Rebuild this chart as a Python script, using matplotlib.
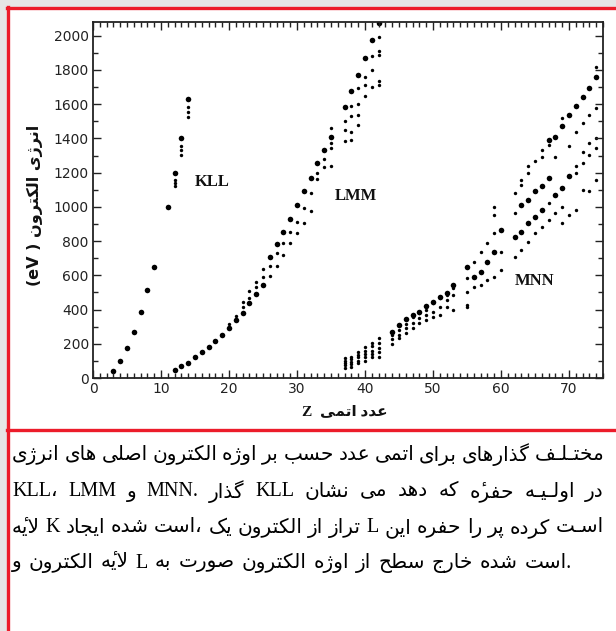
import matplotlib
matplotlib.use("Agg")
import matplotlib.pyplot as plt
from matplotlib.lines import Line2D
from matplotlib.patches import Rectangle
from matplotlib.ticker import MultipleLocator

# ---- data (Z, Auger energy in eV) ----
kll_z = [3, 4, 5, 6, 7, 8, 9, 11, 12, 13, 14]
kll_e = [40, 100, 175, 270, 385, 514, 650, 1000, 1197, 1405, 1632]
kll_small_z = [12, 12, 12, 13, 13, 13, 14, 14, 14]
kll_small_e = [1158, 1138, 1119, 1358, 1333, 1304, 1583, 1556, 1526]

lmm_z = [12, 13, 14, 15, 16, 17, 18, 19, 20, 21, 22, 23, 24, 25, 26, 27, 28,
         29, 30, 31, 32, 33, 34, 35, 37, 38, 39, 40, 41, 42]
lmm_e = [47, 72, 86, 125, 150, 183, 216, 251, 290, 339, 382, 437, 489, 544,
         709, 781, 855, 928, 1012, 1090, 1170, 1255, 1333, 1411, 1583, 1674,
         1772, 1870, 1972, 2074]
lmm_small_z = [20, 21, 22, 23, 24, 25, 26, 27, 28, 29, 30, 31, 32, 33, 34, 35,
               37, 38, 39, 40, 41, 42]
lmm_small_e = [[318], [362], [417, 446], [470, 510], [534, 563], [589, 637],
               [598, 657], [657, 729], [719, 787], [787, 851], [846, 914],
               [992, 908], [977, 1080], [1160, 1200], [1230, 1280],
               [1460, 1374, 1345, 1240], [1499, 1450, 1382],
               [1587, 1532, 1440, 1392], [1694, 1602, 1538, 1480],
               [1758, 1713, 1645], [1880, 1801, 1700],
               [1990, 1908, 1889, 1733, 1713]]

mnn_z = [44, 45, 46, 47, 48, 49, 50, 51, 52, 53, 55, 56, 57, 58, 59, 60, 62,
         63, 63, 64, 64, 65, 65, 66, 66, 67, 67, 68, 68, 69, 69, 70, 70, 71,
         72, 73, 74]
mnn_e = [271, 310, 343, 368, 388, 421, 446, 475, 495, 544, 651, 593, 622, 680,
         739, 865, 826, 855, 1012, 904, 1041, 943, 1090, 982, 1119, 1168, 1392,
         1070, 1411, 1109, 1470, 1178, 1538, 1591, 1641, 1694, 1758]
mnn_small_z = [37, 38, 39, 40, 41, 42, 44, 45, 46, 47, 48, 49, 50, 51, 52, 53,
               55, 56, 57, 58, 59, 60, 62, 63, 64, 65, 66, 67, 68, 69, 70, 71,
               72, 73, 74]
mnn_small_e = [[57, 75, 86, 100, 115], [65, 80, 95, 110, 125],
               [85, 100, 120, 135, 150], [100, 120, 140, 160, 180],
               [120, 140, 160, 185, 205], [120, 150, 175, 205, 235],
               [199, 226, 251], [232, 251, 281], [261, 290, 316],
               [290, 323, 355], [320, 349, 378], [339, 368, 398],
               [358, 388, 437], [368, 417, 466], [417, 456, 485],
               [398, 485, 524], [417, 427, 505, 583], [530, 680], [544, 735],
               [573, 787], [593, 846, 953, 1002], [632, 739], [709, 963, 1080],
               [748, 1129, 1158], [797, 1197, 1236], [846, 1265],
               [884, 1294, 1333], [924, 1021, 1363], [963, 1294],
               [904, 1002, 1519], [953, 1353], [982, 1197, 1236, 1440],
               [1099, 1255, 1323, 1489], [1090, 1304, 1372, 1538],
               [1158, 1343, 1401, 1577, 1817]]

x_ticks = [0, 10, 20, 30, 40, 50, 60, 70]
y_ticks = [0, 200, 400, 600, 800, 1000, 1200, 1400, 1600, 1800, 2000]

y_label_fa = "انرژی الکترون"
x_label_fa = "عدد اتمی"
caption = [
    "انرژی های اصلی الکترون اوژه بر حسب عدد اتمی برای گذارهای مختـلـف",
    "KLL، LMM و MNN. گذار KLL نشان می دهد که حفرۀ اولـیـه در",
    "لایۀ K ایجاد شده است، یک الکترون از تراز L این حفره را پر کرده اسـت",
    "و الکترون لایۀ L به صورت الکترون اوژه از سطح خارج شده است.",
]

# ---- tiny Persian shaper (matplotlib does no Arabic shaping) ----
# isolated, final, initial, medial
DUAL = {
    0x628: (0xFE8F, 0xFE90, 0xFE91, 0xFE92), 0x67E: (0xFB56, 0xFB57, 0xFB58, 0xFB59),
    0x62A: (0xFE95, 0xFE96, 0xFE97, 0xFE98), 0x62B: (0xFE99, 0xFE9A, 0xFE9B, 0xFE9C),
    0x62C: (0xFE9D, 0xFE9E, 0xFE9F, 0xFEA0), 0x686: (0xFB7A, 0xFB7B, 0xFB7C, 0xFB7D),
    0x62D: (0xFEA1, 0xFEA2, 0xFEA3, 0xFEA4), 0x62E: (0xFEA5, 0xFEA6, 0xFEA7, 0xFEA8),
    0x633: (0xFEB1, 0xFEB2, 0xFEB3, 0xFEB4), 0x634: (0xFEB5, 0xFEB6, 0xFEB7, 0xFEB8),
    0x635: (0xFEB9, 0xFEBA, 0xFEBB, 0xFEBC), 0x636: (0xFEBD, 0xFEBE, 0xFEBF, 0xFEC0),
    0x637: (0xFEC1, 0xFEC2, 0xFEC3, 0xFEC4), 0x638: (0xFEC5, 0xFEC6, 0xFEC7, 0xFEC8),
    0x639: (0xFEC9, 0xFECA, 0xFECB, 0xFECC), 0x63A: (0xFECD, 0xFECE, 0xFECF, 0xFED0),
    0x641: (0xFED1, 0xFED2, 0xFED3, 0xFED4), 0x642: (0xFED5, 0xFED6, 0xFED7, 0xFED8),
    0x6A9: (0xFB8E, 0xFB8F, 0xFB90, 0xFB91), 0x6AF: (0xFB92, 0xFB93, 0xFB94, 0xFB95),
    0x644: (0xFEDD, 0xFEDE, 0xFEDF, 0xFEE0), 0x645: (0xFEE1, 0xFEE2, 0xFEE3, 0xFEE4),
    0x646: (0xFEE5, 0xFEE6, 0xFEE7, 0xFEE8), 0x647: (0xFEE9, 0xFEEA, 0xFEEB, 0xFEEC),
    0x6CC: (0xFBFC, 0xFBFD, 0xFBFE, 0xFBFF),
}
RIGHT = {
    0x627: (0xFE8D, 0xFE8E), 0x622: (0xFE81, 0xFE82), 0x62F: (0xFEA9, 0xFEAA),
    0x630: (0xFEAB, 0xFEAC), 0x631: (0xFEAD, 0xFEAE), 0x632: (0xFEAF, 0xFEB0),
    0x698: (0xFB8A, 0xFB8B), 0x648: (0xFEED, 0xFEEE),
    0x6C0: (0xFEE9, 0xFEEA),  # heh + hamza above, drawn as heh with a mark
}
TATWEEL = "\u0640"
HAMZA_ABOVE = "\u0654"


def joins(c):
    return c == TATWEEL or ord(c) in DUAL or ord(c) in RIGHT


def shape(word):
    out = []
    prev = False
    i = 0
    while i < len(word):
        c = word[i]
        nxt = word[i + 1] if i + 1 < len(word) else None
        if c == "ل" and nxt == "ا":
            out.append(chr(0xFEFC if prev else 0xFEFB))
            prev = False
            i += 2
            continue
        if c == TATWEEL:
            out.append(c)
            prev = True
        elif ord(c) in DUAL:
            f = DUAL[ord(c)]
            nj = nxt is not None and joins(nxt)
            out.append(chr(f[3] if prev and nj else f[1] if prev else f[2] if nj else f[0]))
            prev = nj
        elif ord(c) in RIGHT:
            if c == "ۀ":
                out.append(HAMZA_ABOVE)
            out.append(chr(RIGHT[ord(c)][1 if prev else 0]))
            prev = False
        else:
            out.append(c)
            prev = False
        i += 1
    return "".join(reversed(out))


def token(w):
    # trailing punctuation stays on the right, word itself is reversed
    tail = ""
    while w and w[-1] in "،.":
        tail = w[-1] + tail
        w = w[:-1]
    if any(ord(ch) > 0x600 for ch in w):
        w = shape(w)
    return w + tail


def rtl(s):
    return " ".join(token(w) for w in reversed(s.split()))


# ---- figure ----
W, H = 616, 631
fig = plt.figure(figsize=(W / 100, H / 100), dpi=100, facecolor="#e6e6e6")


def fx(px):
    return px / W


def fy(py):
    return 1 - py / H


red = "#ec1c2a"
fig.add_artist(Rectangle((fx(7), 0), 1 - fx(7), fy(7), transform=fig.transFigure,
                         facecolor="white", edgecolor="none", zorder=0))
for xs, ys in [([7, W], [8, 8]), ([8, 8], [7, H]), ([7, W], [430, 430])]:
    fig.add_artist(Line2D([fx(v) for v in xs], [fy(v) for v in ys], color=red,
                          lw=2.4, transform=fig.transFigure, zorder=5))

ax = fig.add_axes([fx(93), fy(378), fx(603) - fx(93), fy(22) - fy(378)])
ax.set_facecolor("white")
ax.set_xlim(0, 75)
ax.set_ylim(0, 2080)
ax.set_xticks(x_ticks)
ax.set_yticks(y_ticks)
ax.xaxis.set_minor_locator(MultipleLocator(1))
ax.yaxis.set_minor_locator(MultipleLocator(100))
ax.tick_params(which="both", direction="in", top=True, right=True, width=1.0,
               color="#222222", labelsize=10, pad=3, labelcolor="#222222")
ax.tick_params(which="major", length=6)
ax.tick_params(which="minor", length=3.5)
for sp in ax.spines.values():
    sp.set_linewidth(1.3)
    sp.set_color("#222222")

big, small = 16, 6
ax.scatter(kll_z, kll_e, s=big, color="black", lw=0)
ax.scatter(kll_small_z, kll_small_e, s=small, color="black", lw=0)
ax.scatter(lmm_z, lmm_e, s=big, color="black", lw=0)
ax.scatter(mnn_z, mnn_e, s=big, color="black", lw=0)
for zs, es in [(lmm_small_z, lmm_small_e), (mnn_small_z, mnn_small_e)]:
    for z, e in zip(zs, es):
        ax.scatter([z] * len(e), e, s=small, color="black", lw=0)

lab = dict(fontsize=12, fontweight="bold", family="Liberation Serif",
           ha="center", va="center", color="#111111")
ax.text(17.5, 1147, "KLL", **lab)
ax.text(38.7, 1062, "LMM", **lab)
ax.text(65.0, 565, "MNN", **lab)

fig.text(fx(35), fy(205), "(eV ) " + rtl(y_label_fa), rotation=90, ha="center",
         va="center", fontsize=11.5, fontweight="bold",
         family=["DejaVu Sans"], color="#111111")
fig.text(fx(345), fy(412), "Z  " + rtl(x_label_fa), ha="center", va="center",
         fontsize=11, fontweight="bold", family=["Liberation Serif", "DejaVu Sans"],
         color="#111111")

# caption: words laid out left to right, first lines justified
fig.canvas.draw()
renderer = fig.canvas.get_renderer()
line_y = [455, 492, 528, 563]
x0, x1 = 12, 604
for k, (s, y) in enumerate(zip(caption, line_y)):
    words = [token(w) for w in s.split()]
    texts = [fig.text(0, fy(y), w, fontsize=14.5, ha="left", va="center",
                      family=["Liberation Serif", "DejaVu Sans"], color="black")
             for w in words]
    widths = [t.get_window_extent(renderer).width for t in texts]
    space = 7.0
    if k < 3:
        space = max(3.0, (x1 - x0 - sum(widths)) / (len(words) - 1))
    x = x0
    for t, w in zip(texts, widths):
        t.set_x(fx(x))
        x += w + space

fig.savefig("out.png", dpi=100, facecolor=fig.get_facecolor())
